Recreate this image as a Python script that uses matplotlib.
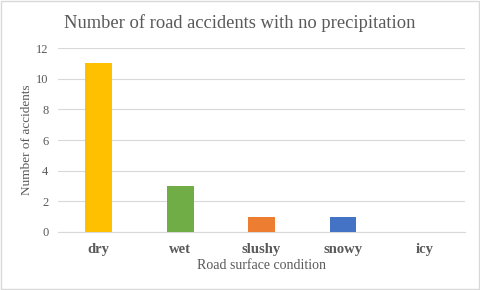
import matplotlib.pyplot as plt

conditions = ['dry', 'wet', 'slushy', 'snowy', 'icy']
accidents = [11, 3, 1, 1, 0]
bar_colors = ['#FFC000', '#70AD47', '#ED7D31', '#4472C4', '#A5A5A5']

plt.rcParams['font.family'] = ['Liberation Serif', 'DejaVu Serif']

fig = plt.figure(figsize=(4.8, 2.9), dpi=100)
ax = fig.add_axes([0.121, 0.2, 0.848, 0.634])

x = range(len(conditions))
ax.bar(x, accidents, width=0.33, color=bar_colors, zorder=3)

ax.set_xlim(-0.5, 4.5)
ax.set_ylim(0, 12)
ax.set_yticks(range(0, 13, 2))
ax.set_xticks(list(x))
ax.set_xticklabels(conditions, fontweight='bold', fontsize=10.5, color='#595959')
ax.grid(axis='y', color='#D9D9D9', lw=0.8, zorder=0)
for s in ['top', 'right', 'left']:
    ax.spines[s].set_visible(False)
ax.spines['bottom'].set_color('#D9D9D9')
ax.tick_params(axis='both', length=0, labelsize=9, colors='#595959')
ax.tick_params(axis='x', pad=8, labelsize=10.5)
ax.tick_params(axis='y', pad=7)

ax.set_xlabel('Road surface condition', fontsize=10, color='#595959', labelpad=2)
ax.set_ylabel('Number of accidents', fontsize=9.5, color='#595959', labelpad=2)
fig.text(0.5, 0.92, 'Number of road accidents with no precipitation',
         ha='center', va='center', fontsize=13.3, color='#595959')

fig.patches.append(plt.Rectangle((0.002, 0.003), 0.995, 0.994, transform=fig.transFigure,
                                 fill=False, edgecolor='#D9D9D9', lw=1))

fig.savefig('out.png', dpi=100)
